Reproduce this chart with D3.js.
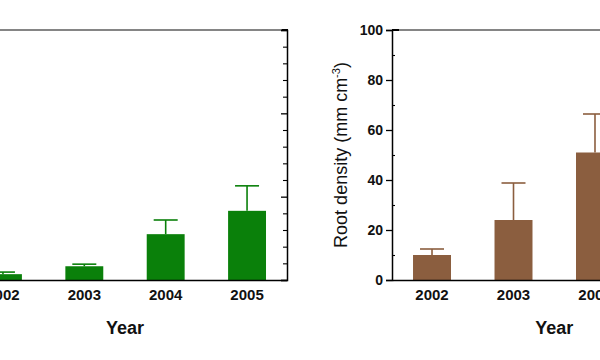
<!DOCTYPE html>
<html>
<head>
<meta charset="utf-8">
<script src="https://cdn.jsdelivr.net/npm/d3@7/dist/d3.min.js"></script>
<style>
  html, body { margin: 0; padding: 0; background: #fff; }
  svg { display: block; font-family: "Liberation Sans", Arial, sans-serif; }
</style>
</head>
<body>
<svg id="chart" width="600" height="360"></svg>
<script>
// ---- data ----
const years = ["2002", "2003", "2004", "2005"];
const leftValues = [0.7, 1.65, 5.5, 8.3];
const leftErrors = [0.25, 0.25, 1.7, 3.0];
const rightValues = [10, 24, 51, 69];
const rightErrors = [2.4, 14.8, 15.4, 16];
const leftMajorTicks = [0, 10, 20, 30];
const leftMinorTicks = [2, 4, 6, 8, 12, 14, 16, 18, 22, 24, 26, 28];
const rightMajorTicks = [0, 20, 40, 60, 80, 100];
const rightMinorTicks = [10, 30, 50, 70, 90];
const xTitle = "Year";
const yTitle = "Root density (mm cm";

const svg = d3.select("#chart");
const plotTop = 30, plotBottom = 280;

function panel(opt) {
  const g = svg.append("g");
  const x = d3.scaleBand().domain(years).range([opt.x0, opt.x1])
    .paddingInner(0.534).paddingOuter(0.258);
  const y = d3.scaleLinear().domain(opt.domain).range([plotBottom, plotTop]);

  // top frame line
  g.append("line").attr("x1", opt.x0).attr("x2", opt.x1)
    .attr("y1", plotTop).attr("y2", plotTop)
    .attr("stroke", "#858585").attr("stroke-width", 2);

  // bars
  g.selectAll("rect.bar").data(years).join("rect")
    .attr("x", d => x(d)).attr("width", x.bandwidth())
    .attr("y", (d, i) => y(opt.values[i]))
    .attr("height", (d, i) => y(0) - y(opt.values[i]))
    .attr("fill", opt.color);

  // error bars (upper only)
  const cx = d => x(d) + x.bandwidth() / 2;
  g.selectAll("line.err").data(years).join("line")
    .attr("x1", cx).attr("x2", cx)
    .attr("y1", (d, i) => y(opt.values[i]))
    .attr("y2", (d, i) => y(opt.values[i] + opt.errors[i]))
    .attr("stroke", opt.color).attr("stroke-width", 1.6);
  g.selectAll("line.cap").data(years).join("line")
    .attr("x1", d => cx(d) - 12).attr("x2", d => cx(d) + 12)
    .attr("y1", (d, i) => y(opt.values[i] + opt.errors[i]))
    .attr("y2", (d, i) => y(opt.values[i] + opt.errors[i]))
    .attr("stroke", opt.color).attr("stroke-width", 1.6);

  // x axis
  const xa = g.append("g").attr("transform", `translate(0,${plotBottom})`)
    .call(d3.axisBottom(x).tickSize(0).tickPadding(9));
  xa.select(".domain").attr("stroke", "#000").attr("stroke-width", 1.3);
  xa.selectAll("text").attr("font-size", 15).attr("font-weight", "bold")
    .attr("fill", "#111").attr("font-family", "Liberation Sans, Arial, sans-serif");

  // x title
  g.append("text").attr("x", (opt.x0 + opt.x1) / 2).attr("y", 334)
    .attr("text-anchor", "middle").attr("font-size", 18).attr("font-weight", "bold")
    .attr("fill", "#111").text(xTitle);
  return { g, x, y };
}

// ---- left panel (y axis on the right, ticks inward, no labels) ----
const L = panel({ x0: -37, x1: 287, domain: [0, 30], values: leftValues,
  errors: leftErrors, color: "#0a800a" });
const la = L.g.append("g").attr("transform", "translate(287,0)")
  .call(d3.axisLeft(L.y).tickValues(leftMajorTicks).tickSize(6).tickFormat(""));
la.select(".domain").attr("stroke", "#000").attr("stroke-width", 1.5);
la.selectAll(".tick line").attr("stroke-width", 1.3);
const lm = L.g.append("g").attr("transform", "translate(287,0)")
  .call(d3.axisLeft(L.y).tickValues(leftMinorTicks).tickSize(4).tickFormat(""));
lm.select(".domain").remove();
lm.selectAll(".tick line").attr("stroke-width", 1.1);

// ---- right panel ----
const R = panel({ x0: 392, x1: 716.5, domain: [0, 100], values: rightValues,
  errors: rightErrors, color: "#8b5e3f" });
const ra = R.g.append("g").attr("transform", "translate(392,0)")
  .call(d3.axisLeft(R.y).tickValues(rightMajorTicks).tickSize(6).tickPadding(3));
ra.select(".domain").attr("stroke", "#000").attr("stroke-width", 1.5);
ra.selectAll(".tick line").attr("stroke-width", 1.3);
ra.selectAll("text").attr("font-size", 14).attr("font-weight", "bold")
  .attr("fill", "#111").attr("font-family", "Liberation Sans, Arial, sans-serif");
const rm = R.g.append("g").attr("transform", "translate(392,0)")
  .call(d3.axisRight(R.y).tickValues(rightMinorTicks).tickSize(3).tickFormat(""));
rm.select(".domain").remove();
rm.selectAll(".tick line").attr("stroke-width", 1.1);
// black corner segments at top
R.g.append("line").attr("x1", 392).attr("x2", 399).attr("y1", plotTop).attr("y2", plotTop)
  .attr("stroke", "#000").attr("stroke-width", 2);
L.g.append("line").attr("x1", 282).attr("x2", 288).attr("y1", plotTop).attr("y2", plotTop)
  .attr("stroke", "#000").attr("stroke-width", 2);

// y title
const yt = svg.append("text").attr("transform", "translate(347,155) rotate(-90)")
  .attr("text-anchor", "middle").attr("font-size", 18).attr("fill", "#111");
yt.append("tspan").text(yTitle);
yt.append("tspan").attr("font-size", 11).attr("dy", -7).text("-3");
yt.append("tspan").attr("dy", 7).text(")");
</script>
</body>
</html>
